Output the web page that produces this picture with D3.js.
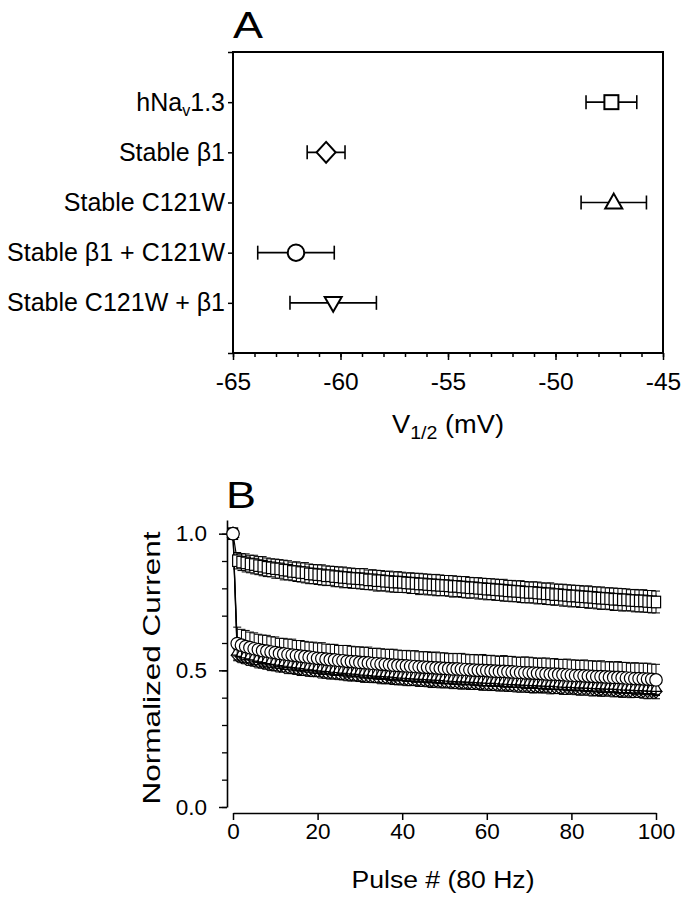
<!DOCTYPE html>
<html><head><meta charset="utf-8">
<script src="https://cdn.jsdelivr.net/npm/d3@7"></script>
<style>
body{margin:0;background:#fff}
svg{display:block}
text{font-family:"Liberation Sans",Arial,sans-serif;fill:#000}
</style>
</head><body>
<svg id="c" width="689" height="900"></svg>
<script>
// ---------- Panel A data ----------
const categoriesA = ["hNav1.3", "Stable β1", "Stable C121W", "Stable β1 + C121W", "Stable C121W + β1"];
const v12Mean = [-47.4, -60.67, -47.29, -62.07, -60.34];
const v12Sem  = [1.18, 0.88, 1.52, 1.78, 2.01];
const symbolsA = ["square", "diamond", "triangle", "circle", "triangleDown"];
const xTicksA = [-65, -60, -55, -50, -45];

// ---------- Panel B data ----------
const pulseTicks = [0, 20, 40, 60, 80, 100];
const yTicksB = [0.0, 0.5, 1.0];
const sqMean = [1.000,
0.901,0.896,0.893,0.889,0.887,0.883,0.881,0.877,0.875,0.872,
0.871,0.867,0.866,0.862,0.861,0.858,0.857,0.853,0.852,0.850,
0.849,0.846,0.846,0.843,0.842,0.840,0.839,0.837,0.836,0.835,
0.834,0.831,0.831,0.828,0.828,0.826,0.825,0.823,0.823,0.822,
0.820,0.819,0.818,0.816,0.816,0.814,0.813,0.812,0.811,0.810,
0.809,0.807,0.807,0.805,0.804,0.802,0.802,0.800,0.799,0.797,
0.797,0.795,0.794,0.793,0.791,0.790,0.789,0.788,0.786,0.785,
0.785,0.783,0.782,0.780,0.780,0.777,0.777,0.775,0.774,0.772,
0.772,0.770,0.769,0.768,0.767,0.765,0.764,0.763,0.762,0.760,
0.760,0.758,0.758,0.756,0.755,0.754,0.754,0.752,0.751,0.750];
const sqErr = [0.000,
0.030,0.031,0.033,0.032,0.034,0.033,0.035,0.034,0.033,0.035,
0.034,0.036,0.035,0.034,0.036,0.035,0.037,0.036,0.035,0.036,
0.037,0.036,0.035,0.037,0.036,0.038,0.036,0.037,0.036,0.037,
0.038,0.036,0.037,0.038,0.037,0.036,0.038,0.037,0.038,0.037,
0.036,0.038,0.037,0.039,0.037,0.038,0.037,0.039,0.038,0.037,
0.038,0.039,0.037,0.038,0.039,0.038,0.037,0.039,0.038,0.039,
0.038,0.039,0.038,0.040,0.038,0.039,0.038,0.040,0.039,0.038,
0.039,0.040,0.038,0.039,0.040,0.039,0.038,0.040,0.039,0.040,
0.039,0.040,0.039,0.041,0.039,0.040,0.041,0.039,0.040,0.041,
0.040,0.041,0.040,0.039,0.041,0.040,0.041,0.040,0.041,0.040];
const diaMean = [1.000,
0.555,0.550,0.545,0.541,0.537,0.533,0.530,0.527,0.524,0.521,
0.518,0.516,0.513,0.511,0.509,0.507,0.505,0.503,0.501,0.499,
0.497,0.495,0.494,0.492,0.491,0.489,0.488,0.486,0.485,0.484,
0.482,0.481,0.480,0.478,0.477,0.476,0.475,0.474,0.472,0.471,
0.470,0.469,0.468,0.467,0.466,0.465,0.464,0.463,0.462,0.461,
0.460,0.459,0.459,0.458,0.457,0.456,0.455,0.454,0.454,0.453,
0.452,0.451,0.451,0.450,0.449,0.448,0.447,0.447,0.446,0.445,
0.444,0.444,0.443,0.442,0.441,0.441,0.440,0.439,0.438,0.438,
0.437,0.436,0.435,0.435,0.434,0.433,0.432,0.432,0.431,0.430,
0.430,0.429,0.428,0.427,0.427,0.426,0.425,0.424,0.424,0.423];
const diaErr = [0.000,
0.020,0.022,0.021,0.023,0.022,0.024,0.022,0.023,0.025,0.023,
0.024,0.022,0.025,0.023,0.024,0.026,0.023,0.025,0.024,0.022,
0.025,0.024,0.026,0.023,0.025,0.024,0.026,0.025,0.023,0.025,
0.026,0.024,0.025,0.023,0.026,0.025,0.024,0.026,0.025,0.024,
0.026,0.025,0.023,0.026,0.024,0.025,0.027,0.024,0.026,0.025,
0.024,0.026,0.025,0.027,0.024,0.026,0.025,0.024,0.027,0.025,
0.026,0.024,0.027,0.025,0.026,0.024,0.026,0.027,0.025,0.026,
0.027,0.025,0.026,0.024,0.027,0.026,0.025,0.027,0.026,0.024,
0.026,0.027,0.025,0.026,0.028,0.025,0.027,0.026,0.025,0.027,
0.026,0.028,0.025,0.027,0.026,0.025,0.027,0.028,0.026,0.027];
const triMean = [1.000,
0.570,0.565,0.560,0.556,0.552,0.548,0.545,0.542,0.539,0.536,
0.533,0.531,0.529,0.526,0.524,0.522,0.520,0.518,0.516,0.514,
0.512,0.510,0.509,0.507,0.506,0.504,0.503,0.501,0.500,0.499,
0.497,0.496,0.495,0.493,0.492,0.491,0.490,0.489,0.487,0.486,
0.485,0.484,0.483,0.482,0.481,0.480,0.479,0.478,0.477,0.476,
0.475,0.474,0.473,0.472,0.472,0.471,0.470,0.469,0.468,0.467,
0.466,0.466,0.465,0.464,0.463,0.462,0.462,0.461,0.460,0.459,
0.458,0.458,0.457,0.456,0.455,0.455,0.454,0.453,0.452,0.452,
0.451,0.450,0.450,0.449,0.448,0.447,0.447,0.446,0.445,0.445,
0.444,0.443,0.442,0.442,0.441,0.440,0.440,0.439,0.438,0.437];
const triErr = [0.000,
0.018,0.019,0.020,0.018,0.021,0.019,0.020,0.022,0.019,0.021,
0.020,0.022,0.019,0.021,0.020,0.022,0.021,0.019,0.022,0.020,
0.021,0.023,0.020,0.022,0.021,0.020,0.023,0.021,0.022,0.020,
0.022,0.021,0.023,0.020,0.022,0.021,0.023,0.022,0.020,0.023,
0.021,0.022,0.024,0.021,0.023,0.022,0.021,0.023,0.022,0.024,
0.022,0.021,0.023,0.022,0.024,0.021,0.023,0.022,0.024,0.023,
0.022,0.024,0.021,0.023,0.022,0.024,0.023,0.022,0.024,0.023,
0.021,0.024,0.023,0.022,0.024,0.023,0.025,0.022,0.024,0.023,
0.024,0.022,0.025,0.023,0.024,0.023,0.022,0.025,0.024,0.023,
0.025,0.024,0.023,0.025,0.024,0.022,0.025,0.024,0.023,0.025];
const cirMean = [1.000,
0.598,0.592,0.587,0.583,0.579,0.576,0.572,0.570,0.567,0.565,
0.562,0.560,0.558,0.556,0.554,0.552,0.550,0.548,0.546,0.544,
0.543,0.541,0.539,0.538,0.536,0.535,0.533,0.532,0.531,0.529,
0.528,0.527,0.525,0.524,0.523,0.522,0.520,0.519,0.518,0.517,
0.516,0.515,0.514,0.513,0.512,0.511,0.510,0.509,0.508,0.507,
0.506,0.505,0.505,0.504,0.503,0.502,0.501,0.500,0.500,0.499,
0.498,0.497,0.496,0.496,0.495,0.494,0.493,0.492,0.491,0.491,
0.490,0.489,0.488,0.487,0.486,0.486,0.485,0.484,0.483,0.482,
0.481,0.481,0.480,0.479,0.478,0.477,0.477,0.476,0.475,0.474,
0.474,0.473,0.472,0.471,0.470,0.470,0.469,0.468,0.467,0.465];
const cirErr = [0.000,
0.060,0.058,0.059,0.057,0.058,0.056,0.057,0.058,0.056,0.057,
0.055,0.057,0.056,0.058,0.055,0.057,0.056,0.055,0.057,0.056,
0.058,0.055,0.056,0.057,0.055,0.056,0.058,0.056,0.055,0.057,
0.056,0.058,0.055,0.057,0.056,0.055,0.057,0.058,0.056,0.055,
0.057,0.056,0.058,0.055,0.056,0.057,0.055,0.058,0.056,0.057,
0.055,0.057,0.056,0.058,0.056,0.055,0.057,0.056,0.058,0.055,
0.057,0.056,0.055,0.058,0.056,0.057,0.055,0.056,0.058,0.057,
0.056,0.055,0.057,0.058,0.056,0.057,0.055,0.056,0.058,0.056,
0.057,0.055,0.058,0.056,0.057,0.056,0.058,0.055,0.057,0.056,
0.058,0.056,0.057,0.055,0.058,0.056,0.057,0.058,0.056,0.057];

const seriesB = [
  {mean: sqMean,  err: sqErr,  sym: "rect"},
  {mean: diaMean, err: diaErr, sym: "diamond"},
  {mean: triMean, err: triErr, sym: "triangle"},
  {mean: cirMean, err: cirErr, sym: "circle"}
];

const svg = d3.select("#c");
const FONT = "Liberation Sans, Arial, sans-serif";
const plainNum = d => String(d);

function marker(g, type, x, y, s, sw) {
  let el;
  if (type === "circle") {
    el = g.append("circle").attr("cx", x).attr("cy", y).attr("r", s / 2);
  } else if (type === "square") {
    el = g.append("rect").attr("x", x - s / 2).attr("y", y - s / 2).attr("width", s).attr("height", s);
  } else if (type === "rect") {
    el = g.append("rect").attr("x", x - s * 0.4).attr("y", y - s * 0.5).attr("width", s * 0.8).attr("height", s);
  } else if (type === "diamond") {
    const w = s / 2, h = s * 0.55;
    el = g.append("path").attr("d", `M${x},${y - h}L${x + w},${y}L${x},${y + h}L${x - w},${y}Z`);
  } else if (type === "triangle") {
    const w = s / 2, h = s * 0.87;
    el = g.append("path").attr("d", `M${x},${y - h * 0.6}L${x + w},${y + h * 0.4}L${x - w},${y + h * 0.4}Z`);
  } else if (type === "triangleDown") {
    const w = s / 2, h = s * 0.87;
    el = g.append("path").attr("d", `M${x},${y + h * 0.6}L${x + w},${y - h * 0.4}L${x - w},${y - h * 0.4}Z`);
  }
  el.attr("fill", "#fff").attr("stroke", "#000").attr("stroke-width", sw);
  return el;
}

// ================= Panel A =================
const A = {left: 233, right: 663, top: 52, bottom: 353};
const xA = d3.scaleLinear().domain([-65, -45]).range([A.left, A.right]);
const yA = d3.scaleLinear().domain([0, 6]).range([A.top, A.bottom]);

const gA = svg.append("g");
gA.append("g").attr("transform", `translate(0,${A.bottom})`)
  .call(d3.axisBottom(xA).tickValues(d3.range(-65, -44, 1)).tickSize(4).tickSizeOuter(0).tickFormat(""))
  .call(g => g.select(".domain").remove())
  .call(g => g.selectAll("line").attr("stroke-width", 1.5));
gA.append("g").attr("transform", `translate(0,${A.bottom})`)
  .call(d3.axisBottom(xA).tickValues(xTicksA).tickSize(7).tickPadding(13).tickSizeOuter(0).tickFormat(plainNum))
  .call(g => g.select(".domain").remove())
  .call(g => g.selectAll("line").attr("stroke-width", 1.5))
  .call(g => g.selectAll("text").attr("font-size", 24.5).attr("font-family", FONT));
gA.append("g").attr("transform", `translate(${A.left},0)`)
  .call(d3.axisLeft(yA).tickValues(d3.range(0, 7)).tickSize(5).tickSizeOuter(0).tickFormat(""))
  .call(g => g.select(".domain").remove())
  .call(g => g.selectAll("line").attr("stroke-width", 1.5));
gA.append("rect").attr("x", A.left).attr("y", A.top).attr("width", A.right - A.left).attr("height", A.bottom - A.top)
  .attr("fill", "none").attr("stroke", "#000").attr("stroke-width", 2);

categoriesA.forEach((c, i) => {
  const t = gA.append("text").attr("x", 225).attr("y", yA(i + 1) + 8.5).attr("text-anchor", "end").attr("font-size", 25);
  if (c === "hNav1.3") {
    t.append("tspan").text("hNa");
    t.append("tspan").attr("font-size", 16).attr("dy", 5).text("v");
    t.append("tspan").attr("dy", -5).text("1.3");
  } else {
    t.text(c);
  }
});

categoriesA.forEach((c, i) => {
  const y = yA(i + 1);
  const x0 = xA(v12Mean[i] - v12Sem[i]), x1 = xA(v12Mean[i] + v12Sem[i]);
  gA.append("line").attr("x1", x0).attr("x2", x1).attr("y1", y).attr("y2", y).attr("stroke", "#000").attr("stroke-width", 1.6);
  [x0, x1].forEach(xx => gA.append("line").attr("x1", xx).attr("x2", xx).attr("y1", y - 7).attr("y2", y + 7).attr("stroke", "#000").attr("stroke-width", 1.6));
  const sz = {square: 14, diamond: 19, triangle: 17, circle: 16.5, triangleDown: 17}[symbolsA[i]];
  marker(gA, symbolsA[i], xA(v12Mean[i]), y, sz, 2);
});

svg.append("text").attr("x", 233).attr("y", 38).attr("font-size", 36).attr("textLength", 30).attr("lengthAdjust", "spacingAndGlyphs").text("A");

{
  const t = svg.append("text").attr("x", (A.left + A.right) / 2).attr("y", 433).attr("text-anchor", "middle")
    .attr("font-size", 25).attr("textLength", 112).attr("lengthAdjust", "spacingAndGlyphs");
  t.append("tspan").text("V");
  t.append("tspan").attr("font-size", 18).attr("dy", 6).text("1/2");
  t.append("tspan").attr("dy", -6).text(" (mV)");
}

// ================= Panel B =================
const B = {left: 233, right: 656, top: 520, bottom: 807, xAxisY: 813, yAxisX: 227};
const xB = d3.scaleLinear().domain([0, 100]).range([B.left, B.right]);
const yB = d3.scaleLinear().domain([0, 1.05]).range([B.bottom, B.top]);
const gB = svg.append("g");

gB.append("g").attr("transform", `translate(0,${B.xAxisY})`)
  .call(d3.axisBottom(xB).tickValues(pulseTicks).tickSize(7).tickPadding(3.5).tickSizeOuter(0).tickFormat(plainNum))
  .call(g => g.select(".domain").attr("stroke-width", 1.6))
  .call(g => g.selectAll("line").attr("stroke-width", 1.5))
  .call(g => g.selectAll("text").attr("font-size", 22.5).attr("font-family", FONT));

gB.append("g").attr("transform", `translate(${B.yAxisX},0)`)
  .call(d3.axisLeft(yB).tickValues(d3.range(0, 11).map(d => d / 10)).tickSize(5).tickSizeOuter(0).tickFormat(""))
  .call(g => g.select(".domain").remove())
  .call(g => g.selectAll("line").attr("stroke-width", 1.3));
gB.append("g").attr("transform", `translate(${B.yAxisX},0)`)
  .call(d3.axisLeft(yB).tickValues(yTicksB).tickSize(8).tickPadding(12).tickSizeOuter(0).tickFormat(d3.format(".1f")))
  .call(g => g.select(".domain").attr("stroke-width", 1.6))
  .call(g => g.selectAll("line").attr("stroke-width", 1.5))
  .call(g => g.selectAll("text").attr("font-size", 22.5).attr("font-family", FONT));

const line = d3.line().x((d, i) => xB(i)).y(d => yB(d));
seriesB.forEach(s => {
  gB.append("path").attr("d", line(s.mean)).attr("fill", "none").attr("stroke", "#000").attr("stroke-width", 1.2);
});

const sizeB = {rect: 11.5, diamond: 12, triangle: 11, circle: 12.5};
seriesB.forEach(s => {
  const g = gB.append("g");
  s.mean.forEach((m, i) => {
    const x = xB(i);
    if (s.err[i] > 0) {
      const y0 = yB(m - s.err[i]), y1 = yB(m + s.err[i]);
      g.append("line").attr("x1", x).attr("x2", x).attr("y1", y0).attr("y2", y1).attr("stroke", "#000").attr("stroke-width", 1);
      [y0, y1].forEach(yy => g.append("line").attr("x1", x - 4).attr("x2", x + 4).attr("y1", yy).attr("y2", yy).attr("stroke", "#000").attr("stroke-width", 1));
    }
  });
  s.mean.forEach((m, i) => {
    marker(g, s.sym, xB(i), yB(m), sizeB[s.sym], 1.2);
  });
});

svg.append("text").attr("x", 226).attr("y", 508).attr("font-size", 36).attr("textLength", 30).attr("lengthAdjust", "spacingAndGlyphs").text("B");

svg.append("text").attr("x", 443).attr("y", 888).attr("text-anchor", "middle").attr("font-size", 23)
  .attr("textLength", 183).attr("lengthAdjust", "spacingAndGlyphs").text("Pulse # (80 Hz)");
svg.append("text").attr("transform", "translate(160,668) rotate(-90)").attr("text-anchor", "middle").attr("font-size", 24)
  .attr("textLength", 273).attr("lengthAdjust", "spacingAndGlyphs").text("Normalized Current");
</script>
</body></html>
